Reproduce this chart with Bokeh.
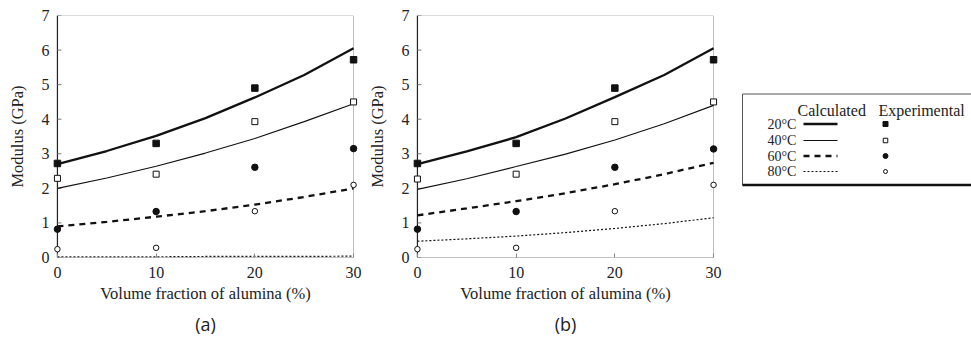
from bokeh.plotting import figure
from bokeh.layouts import row
from bokeh.models import Range1d, FixedTicker, Title
from bokeh.embed import file_html
from bokeh.resources import INLINE
from bokeh.core.properties import value

# ---------------- data ----------------
temps = ["20°C", "40°C", "60°C", "80°C"]
x_ticks = [0, 10, 20, 30]
y_ticks = [0, 1, 2, 3, 4, 5, 6, 7]

x_exp = [0, 10, 20, 30]
x_calc = [0, 5, 10, 15, 20, 25, 30]

# experimental
a_exp_20 = [2.72, 3.30, 4.90, 5.72]
a_exp_40 = [2.29, 2.41, 3.93, 4.50]
a_exp_60 = [0.82, 1.33, 2.61, 3.15]
a_exp_80 = [0.24, 0.28, 1.34, 2.10]

b_exp_20 = [2.72, 3.30, 4.90, 5.72]
b_exp_40 = [2.27, 2.41, 3.93, 4.50]
b_exp_60 = [0.82, 1.33, 2.61, 3.14]
b_exp_80 = [0.24, 0.28, 1.34, 2.10]

# calculated, panel (a)
a_calc_20 = [2.70, 3.08, 3.52, 4.03, 4.63, 5.28, 6.05]
a_calc_40 = [2.00, 2.30, 2.64, 3.02, 3.44, 3.93, 4.45]
a_calc_60 = [0.90, 1.03, 1.18, 1.34, 1.53, 1.75, 2.00]
a_calc_80 = [0.02, 0.02, 0.02, 0.03, 0.03, 0.03, 0.04]

# calculated, panel (b)
b_calc_20 = [2.70, 3.07, 3.48, 4.02, 4.64, 5.28, 6.05]
b_calc_40 = [1.97, 2.28, 2.63, 2.99, 3.40, 3.87, 4.40]
b_calc_60 = [1.22, 1.42, 1.63, 1.86, 2.12, 2.41, 2.74]
b_calc_80 = [0.47, 0.54, 0.62, 0.72, 0.84, 0.98, 1.15]

x_label = "Volume fraction of alumina (%)"
y_label = "Modulus (GPa)"
legend_head = ["Calculated", "Experimental"]

# ---------------- styles ----------------
SERIF = "Liberation Serif"
INK = "#111111"
line_styles = [
    dict(line_width=2.3, line_dash="solid"),
    dict(line_width=1.1, line_dash="solid"),
    dict(line_width=2.3, line_dash="6 5"),
    dict(line_width=1.2, line_dash="2 2"),
]
marker_styles = [
    dict(marker="square", size=6.5, fill_color=INK, line_color=INK, line_width=1),
    dict(marker="square", size=6, fill_color="white", line_color=INK, line_width=1),
    dict(marker="circle", size=6.5, fill_color=INK, line_color=INK, line_width=1),
    dict(marker="circle", size=5.5, fill_color="white", line_color=INK, line_width=1),
]

H = 340
PAD = 0.5          # small x padding so edge markers are not clipped
FRAME_W = 306      # 296 px for 0..30 plus padding
FRAME_H = 242


def panel(exps, calcs, tag, width, left):
    x0, x1 = x_ticks[0], x_ticks[-1]
    y0, y1 = y_ticks[0], y_ticks[-1]
    p = figure(width=width, height=H, title=None,
               x_range=Range1d(x0 - PAD, x1 + PAD), y_range=Range1d(y0, y1),
               output_backend="svg", toolbar_location=None,
               min_border_left=left, min_border_right=width - left - FRAME_W,
               min_border_top=15, min_border_bottom=H - 15 - FRAME_H)
    p.background_fill_color = "white"
    p.border_fill_color = "white"
    p.xgrid.visible = False
    p.ygrid.visible = False
    p.outline_line_color = None
    p.xaxis.ticker = FixedTicker(ticks=x_ticks)
    p.yaxis.ticker = FixedTicker(ticks=y_ticks)
    for ax in (p.xaxis, p.yaxis):
        ax.axis_line_color = None
        ax.minor_tick_line_color = None
        ax.major_tick_out = 0
        ax.major_label_text_font = SERIF
        ax.major_label_text_font_size = "16px"
        ax.major_label_text_color = "#222222"
        ax.axis_label_text_font = SERIF
        ax.axis_label_text_font_size = "16.5px"
        ax.axis_label_text_font_style = "normal"
        ax.axis_label_text_color = "#222222"
    p.xaxis.major_tick_in = 4
    p.xaxis.major_tick_line_color = "#888888"
    p.yaxis.major_tick_in = 0
    p.yaxis.major_tick_line_color = None
    p.xaxis.major_label_standoff = 9
    p.yaxis.major_label_standoff = 3
    p.xaxis.axis_label = x_label
    p.yaxis.axis_label = y_label
    p.xaxis.axis_label_standoff = 3
    p.yaxis.axis_label_standoff = 12

    # frame lines drawn between the first and last tick values
    p.segment(x0=[x0], y0=[y1], x1=[x1], y1=[y1], line_color="#bbbbbb", line_width=1)   # top
    p.segment(x0=[x1], y0=[y0], x1=[x1], y1=[y1], line_color="#777777", line_width=1,
              line_dash="1 1")                                                            # right
    p.segment(x0=[x0], y0=[y0], x1=[x1], y1=[y0], line_color="#888888", line_width=1.2)  # bottom axis
    p.segment(x0=[x0], y0=[y0], x1=[x0], y1=[y1], line_color="#222222", line_width=1.2)  # left axis
    p.segment(x0=[x0] * len(y_ticks), y0=y_ticks, x1=[x0 + 0.4] * len(y_ticks), y1=y_ticks,
              line_color="#777777", line_width=1)                                         # y ticks

    for ys, st in zip(calcs, line_styles):
        p.line(x_calc, ys, line_color=INK, **st)
    for ys, st in zip(exps, marker_styles):
        p.scatter(x_exp, ys, **st)

    p.add_layout(Title(text=tag, align="center", text_font="Open Sans",
                       text_font_size="18px", text_font_style="normal",
                       text_color="#222222", standoff=9), "below")
    return p


pa = panel([a_exp_20, a_exp_40, a_exp_60, a_exp_80],
           [a_calc_20, a_calc_40, a_calc_60, a_calc_80], "(a)", 362, 52)
pb = panel([b_exp_20, b_exp_40, b_exp_60, b_exp_80],
           [b_calc_20, b_calc_40, b_calc_60, b_calc_80], "(b)", 360, 50)

# ---------------- legend panel (pixel-like coordinates, y downwards) ----------------
LW = 249
SHIFT = 14.5       # compensates the vertical offset of this panel in the row
pl = figure(frame_width=LW, frame_height=H, title=None,
            x_range=Range1d(0, LW), y_range=Range1d(H + SHIFT, SHIFT),
            output_backend="svg", toolbar_location=None,
            x_axis_location=None, y_axis_location=None,
            min_border_left=0, min_border_right=0, min_border_top=0, min_border_bottom=0)
pl.xgrid.visible = False
pl.ygrid.visible = False
pl.outline_line_color = None
pl.background_fill_color = "white"
pl.border_fill_color = "white"

box_l, box_r, box_t, box_b = 20, 270, 93, 184
pl.quad(left=[box_l], right=[box_r], top=[box_t], bottom=[box_b],
        fill_color="white", line_color="#555555", line_width=1)
pl.line([box_l, box_r], [box_b, box_b], line_color=INK, line_width=2.5)

pl.text(x=[75, 156], y=[109, 109], text=legend_head, text_font=value(SERIF),
        text_font_size="16px", text_baseline="middle", text_align="left",
        text_color="#222222")
row_y = [123, 139.5, 155, 170.5]
pl.text(x=[45] * 4, y=row_y, text=temps, text_font=value(SERIF),
        text_font_size="14px", text_baseline="middle", text_align="left",
        text_color="#222222")
for yy, st in zip(row_y, line_styles):
    pl.line([81, 115], [yy, yy], line_color=INK, **st)
for yy, st in zip(row_y, marker_styles):
    s = dict(st)
    s["size"] = s["size"] - 1.5
    pl.scatter([163], [yy], **s)

layout = row(pa, pb, pl, spacing=0)
open("out.html", "w").write(file_html(layout, INLINE))
